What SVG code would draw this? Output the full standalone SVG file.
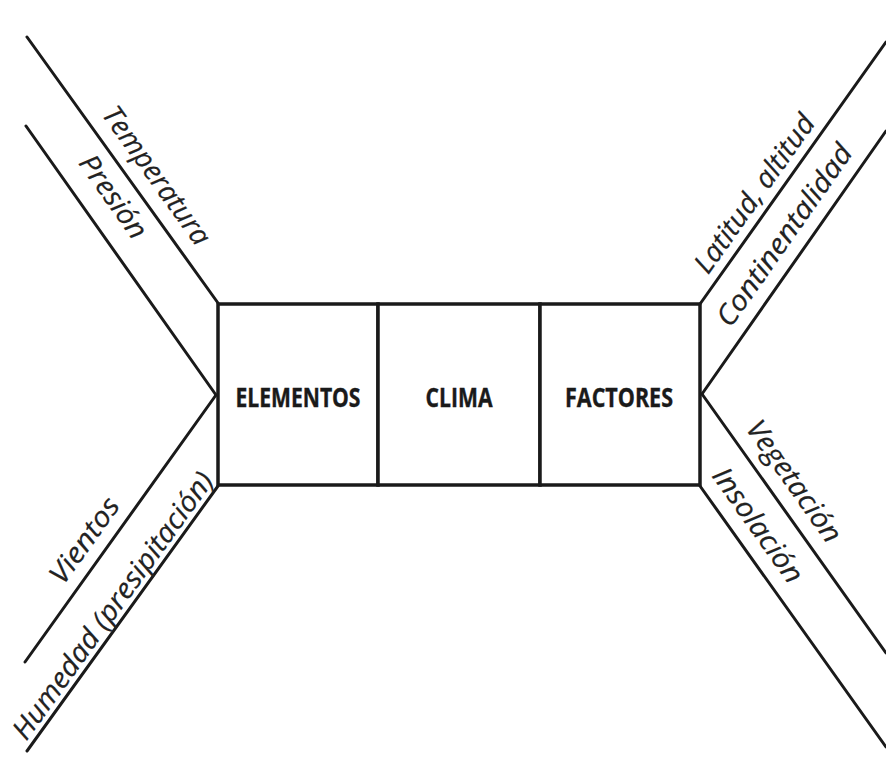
<svg xmlns="http://www.w3.org/2000/svg" width="886" height="762" viewBox="0 0 886 762">
<style>
.ln{stroke:#1a1a1a;stroke-width:3;fill:none;stroke-linecap:round}
.box{stroke:#1a1a1a;stroke-width:3.5;fill:#fff}
.bl{font-family:"Open Sans","DejaVu Sans",sans-serif;font-weight:bold;font-size:26px;fill:#1a1a1a;text-anchor:middle;stroke:#1a1a1a;stroke-width:0.4}
.lb{font-family:"Open Sans","DejaVu Sans",sans-serif;font-style:italic;font-size:28px;fill:#222;stroke:#222;stroke-width:0.2}
</style>
<rect width="886" height="762" fill="#fff"/>
<g id="connectors">
<line class="ln" x1="27" y1="37" x2="218" y2="303"/>
<line class="ln" x1="26" y1="126" x2="216" y2="395"/>
<line class="ln" x1="216" y1="395" x2="25" y2="662"/>
<line class="ln" x1="218" y1="486" x2="27" y2="751"/>
<line class="ln" x1="700" y1="304" x2="886" y2="42"/>
<line class="ln" x1="702" y1="394" x2="886" y2="131"/>
<line class="ln" x1="702" y1="394" x2="886" y2="653"/>
<line class="ln" x1="700" y1="486" x2="886" y2="747"/>
</g>
<g id="elementos">
<rect class="box" x="218" y="304" width="160" height="181"/>
<text class="bl" x="298" y="407" textLength="125" lengthAdjust="spacingAndGlyphs">ELEMENTOS</text>
</g>
<g id="clima">
<rect class="box" x="378" y="304" width="162" height="181"/>
<text class="bl" x="459" y="407" textLength="67" lengthAdjust="spacingAndGlyphs">CLIMA</text>
</g>
<g id="factores">
<rect class="box" x="540" y="304" width="160" height="181"/>
<text class="bl" x="619" y="407" textLength="108" lengthAdjust="spacingAndGlyphs">FACTORES</text>
</g>
<g id="labels">
<text class="lb" transform="translate(101,114.4) rotate(54.3)" textLength="164" lengthAdjust="spacingAndGlyphs">Temperatura</text>
<text class="lb" transform="translate(77.8,162.9) rotate(54.8)" textLength="96" lengthAdjust="spacingAndGlyphs">Presión</text>
<text class="lb" transform="translate(63.3,586.1) rotate(-54.4)" textLength="99" lengthAdjust="spacingAndGlyphs">Vientos</text>
<text class="lb" transform="translate(26.2,741.8) rotate(-54.2)" textLength="322" lengthAdjust="spacingAndGlyphs">Humedad (presipitación)</text>
<text class="lb" transform="translate(708,275.4) rotate(-54.6)" textLength="187" lengthAdjust="spacingAndGlyphs">Latitud, altitud</text>
<text class="lb" transform="translate(730.6,328.7) rotate(-55)" textLength="215" lengthAdjust="spacingAndGlyphs">Continentalidad</text>
<text class="lb" transform="translate(744.9,428.5) rotate(54.6)" textLength="143" lengthAdjust="spacingAndGlyphs">Vegetación</text>
<text class="lb" transform="translate(711,475.7) rotate(54.5)" textLength="135" lengthAdjust="spacingAndGlyphs">Insolación</text>
</g>
</svg>
